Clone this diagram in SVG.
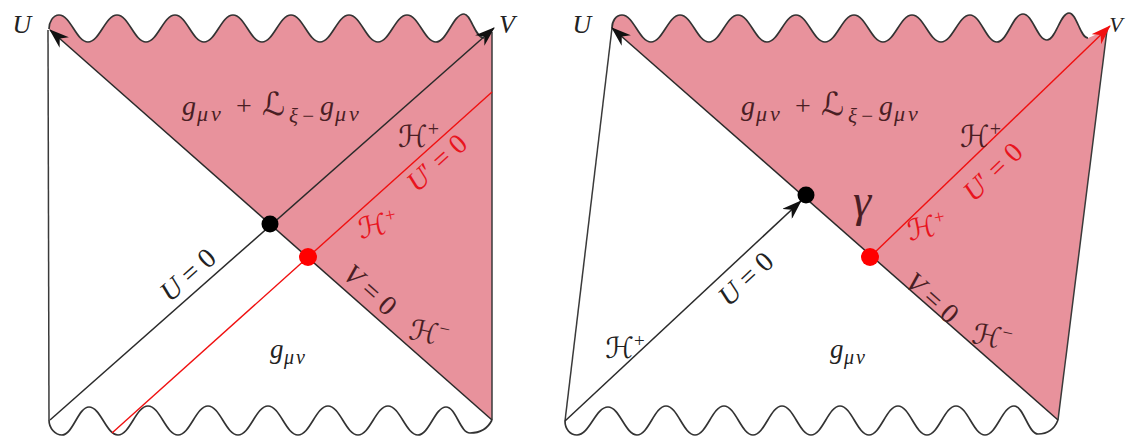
<svg xmlns="http://www.w3.org/2000/svg" width="1126" height="439" viewBox="0 0 1126 439">
<defs>
<style>
.bg{fill:#fff}
.pink{fill:#e8929c;stroke:none}
.edge{fill:none;stroke:#3a3a3a;stroke-width:1.5}
.wave{fill:none;stroke:#333;stroke-width:1.7}
.blk{fill:none;stroke:#2a2a2a;stroke-width:1.5}
.red{fill:none;stroke:#f01010;stroke-width:1.4}
.t{fill:#222}
.tp{fill:#4a1e24}
.tr{fill:#e8141e}
.i{font-style:italic}
</style>
<marker id="ah" viewBox="0 0 20 14" refX="19" refY="7" markerWidth="20" markerHeight="14" markerUnits="userSpaceOnUse" orient="auto">
<path d="M0,0 L20,7 L0,14 L6,7 Z" fill="#111"/>
</marker>
<marker id="ahr" viewBox="0 0 20 14" refX="19" refY="7" markerWidth="20" markerHeight="14" markerUnits="userSpaceOnUse" orient="auto">
<path d="M0,0 L20,7 L0,14 L6,7 Z" fill="#f01010"/>
</marker>
</defs>
<rect class="bg" x="0" y="0" width="1126" height="439"/>

<!-- LEFT PANEL -->
<g id="left-pink-region">
<path class="pink" d="M49,29 C49,22 53,15 59,15 C70.6,15 76.4,42 88,42 C99.6,42 105.4,15 117,15 C128.6,15 134.4,42 146,42 C157.6,42 163.4,15 175,15 C186.6,15 192.4,42 204,42 C215.6,42 221.4,15 233,15 C244.6,15 250.4,42 262,42 C273.6,42 279.4,15 291,15 C302.6,15 308.4,42 320,42 C331.6,42 337.4,15 349,15 C360.6,15 366.4,42 378,42 C389.6,42 395.4,15 407,15 C418.6,15 424.4,42 436,42 C447,42 453,14 464,14 C471,14 475,38 484,38 L492,32 L492,420 L271,225 Z"/>
</g>
<g id="left-boundaries">
<path class="edge" d="M48,30 L49,420"/>
<path class="edge" d="M492,32 L492,420"/>
<path class="wave" d="M49,29 C49,22 53,15 59,15 C70.6,15 76.4,42 88,42 C99.6,42 105.4,15 117,15 C128.6,15 134.4,42 146,42 C157.6,42 163.4,15 175,15 C186.6,15 192.4,42 204,42 C215.6,42 221.4,15 233,15 C244.6,15 250.4,42 262,42 C273.6,42 279.4,15 291,15 C302.6,15 308.4,42 320,42 C331.6,42 337.4,15 349,15 C360.6,15 366.4,42 378,42 C389.6,42 395.4,15 407,15 C418.6,15 424.4,42 436,42 C447,42 453,14 464,14 C471,14 475,38 484,38"/>
<path class="wave" d="M49,420 C49,428 55,435 62,435 C72.8,435 78.2,407 89,407 C100.6,407 106.4,435 118,435 C130,435 136,406 148,406 C160,406 166,435 178,435 C190,435 196,406 208,406 C220,406 226,435 238,435 C250,435 256,406 268,406 C280,406 286,435 298,435 C310,435 316,406 328,406 C340,406 346,435 358,435 C370,435 376,406 388,406 C400,406 406,435 418,435 C429,435 435,407 446,407 C456,407 460,433 470,433 C480,433 488,428 492,420"/>
</g>

<!-- RIGHT PANEL -->
<g id="right-pink-region">
<path class="pink" d="M612,28 C612,21 616,15 622,15 C633.6,15 639.4,42 651,42 C662.6,42 668.4,15 680,15 C691.6,15 697.4,42 709,42 C720.6,42 726.4,15 738,15 C749.6,15 755.4,42 767,42 C778.6,42 784.4,15 796,15 C807.6,15 813.4,42 825,42 C836.6,42 842.4,15 854,15 C865.6,15 871.4,42 883,42 C894.6,42 900.4,15 912,15 C923.6,15 929.4,42 941,42 C952.6,42 958.4,15 970,15 C980.8,15 986.2,42 997,42 C1007.4,42 1012.6,14 1023,14 C1032.6,14 1037.4,40 1047,40 C1055.8,40 1060.2,13 1069,13 C1077,13 1080,38 1088,38 L1107,30 L1058,420 Z"/>
</g>
<g id="right-boundaries">
<path class="edge" d="M612,28 L565,421"/>
<path class="edge" d="M1107,30 L1058,420"/>
<path class="wave" d="M612,28 C612,21 616,15 622,15 C633.6,15 639.4,42 651,42 C662.6,42 668.4,15 680,15 C691.6,15 697.4,42 709,42 C720.6,42 726.4,15 738,15 C749.6,15 755.4,42 767,42 C778.6,42 784.4,15 796,15 C807.6,15 813.4,42 825,42 C836.6,42 842.4,15 854,15 C865.6,15 871.4,42 883,42 C894.6,42 900.4,15 912,15 C923.6,15 929.4,42 941,42 C952.6,42 958.4,15 970,15 C980.8,15 986.2,42 997,42 C1007.4,42 1012.6,14 1023,14 C1032.6,14 1037.4,40 1047,40 C1055.8,40 1060.2,13 1069,13 C1077,13 1080,38 1088,38"/>
<path class="wave" d="M565,421 C565,429 570,435 577,435 C589.4,435 595.6,407 608,407 C619.6,407 625.4,435 637,435 C648.6,435 654.4,406 666,406 C677.6,406 683.4,435 695,435 C706.6,435 712.4,406 724,406 C735.6,406 741.4,435 753,435 C764.6,435 770.4,406 782,406 C793.6,406 799.4,435 811,435 C822.6,435 828.4,406 840,406 C851.6,406 857.4,435 869,435 C880.6,435 886.4,406 898,406 C909.6,406 915.4,435 927,435 C938.6,435 944.4,406 956,406 C967.6,406 973.4,435 985,435 C996.6,435 1002.4,406 1014,406 C1023.6,406 1028.4,434 1038,434 C1046,434 1054,430 1058,420"/>
</g>

<g id="connectors">
<path class="blk" d="M492,420 L50,30" marker-end="url(#ah)"/>
<path class="blk" d="M50,420 L494,28" marker-end="url(#ah)"/>
<path class="red" d="M112,433 L492,92"/>
<path class="blk" d="M1058,420 L612,28" marker-end="url(#ah)"/>
<path class="blk" d="M565,421 L801,201" marker-end="url(#ah)"/>
<path class="red" d="M870,257 L1110,26" marker-end="url(#ahr)"/>
</g>

<g id="left-dots">
<circle cx="270" cy="224" r="8.5" fill="#000"/>
<circle cx="308" cy="257" r="9" fill="#f00"/>
</g>
<g id="right-dots">
<circle cx="806" cy="195" r="8.5" fill="#000"/>
<circle cx="870" cy="257" r="9" fill="#f00"/>
</g>

<g id="left-labels" font-family="'Liberation Serif','DejaVu Serif','DejaVu Sans',serif">
<text class="t i" x="22" y="33" font-size="26" text-anchor="middle">U</text>
<text class="t i" x="507" y="33" font-size="26" text-anchor="middle">V</text>
<text class="tp" font-size="28"><tspan class="i" x="182" y="115">g</tspan><tspan class="i" x="197 211" y="121" font-size="22">μν</tspan><tspan x="236" y="115">+</tspan><tspan x="262" y="115" font-size="32">ℒ</tspan><tspan class="i" x="289 301" y="123" font-size="21">ξ−</tspan><tspan class="i" x="320" y="115">g</tspan><tspan class="i" x="335 349" y="121" font-size="22">μν</tspan></text>
<text class="tp" x="398" y="147" font-size="30">ℋ<tspan font-size="20" dy="-11">+</tspan></text>
<text class="tr" transform="translate(437,163) rotate(-42)" font-size="28" text-anchor="middle" y="9"><tspan class="i">U</tspan>′ = 0</text>
<text class="tr" transform="translate(378,226) rotate(-12)" font-size="29" text-anchor="middle" y="9">ℋ<tspan font-size="19" dy="-11">+</tspan></text>
<text class="t" transform="translate(188,275) rotate(-41.5)" font-size="28" text-anchor="middle" y="9"><tspan class="i">U</tspan> = 0</text>
<text class="tp" transform="translate(370,290) rotate(41.5)" font-size="28" text-anchor="middle" y="9"><tspan class="i">V</tspan> = 0</text>
<text class="tp" transform="translate(429,334) rotate(12)" font-size="29" text-anchor="middle" y="9">ℋ<tspan font-size="19" dy="-11">−</tspan></text>
<text class="t" font-size="27"><tspan class="i" x="270" y="358">g</tspan><tspan class="i" x="284 296" y="364" font-size="20">μν</tspan></text>
</g>

<g id="right-labels" font-family="'Liberation Serif','DejaVu Serif','DejaVu Sans',serif">
<text class="t i" x="582" y="33" font-size="26" text-anchor="middle">U</text>
<text class="t i" x="1116" y="32" font-size="22" text-anchor="middle">V</text>
<text class="tp" font-size="28"><tspan class="i" x="741" y="115">g</tspan><tspan class="i" x="756 770" y="121" font-size="22">μν</tspan><tspan x="795" y="115">+</tspan><tspan x="821" y="115" font-size="32">ℒ</tspan><tspan class="i" x="848 860" y="123" font-size="21">ξ−</tspan><tspan class="i" x="879" y="115">g</tspan><tspan class="i" x="894 908" y="121" font-size="22">μν</tspan></text>
<text class="tp" x="960" y="147" font-size="30">ℋ<tspan font-size="20" dy="-11">+</tspan></text>
<text class="tr" transform="translate(993,172) rotate(-44)" font-size="28" text-anchor="middle" y="9"><tspan class="i">U</tspan>′ = 0</text>
<text class="tr" transform="translate(927,228) rotate(-12)" font-size="29" text-anchor="middle" y="9">ℋ<tspan font-size="19" dy="-11">+</tspan></text>
<text class="tp i" x="862" y="216" font-size="46" text-anchor="middle">γ</text>
<text class="t" transform="translate(746,279) rotate(-43)" font-size="28" text-anchor="middle" y="9"><tspan class="i">U</tspan> = 0</text>
<text class="tp" transform="translate(932,298) rotate(41.5)" font-size="28" text-anchor="middle" y="9"><tspan class="i">V</tspan> = 0</text>
<text class="tp" transform="translate(992,338) rotate(12)" font-size="29" text-anchor="middle" y="9">ℋ<tspan font-size="19" dy="-11">−</tspan></text>
<text class="t" x="625" y="358" font-size="29" text-anchor="middle">ℋ<tspan font-size="19" dy="-11">+</tspan></text>
<text class="t" font-size="27"><tspan class="i" x="830" y="358">g</tspan><tspan class="i" x="844 856" y="364" font-size="20">μν</tspan></text>
</g>
</svg>
